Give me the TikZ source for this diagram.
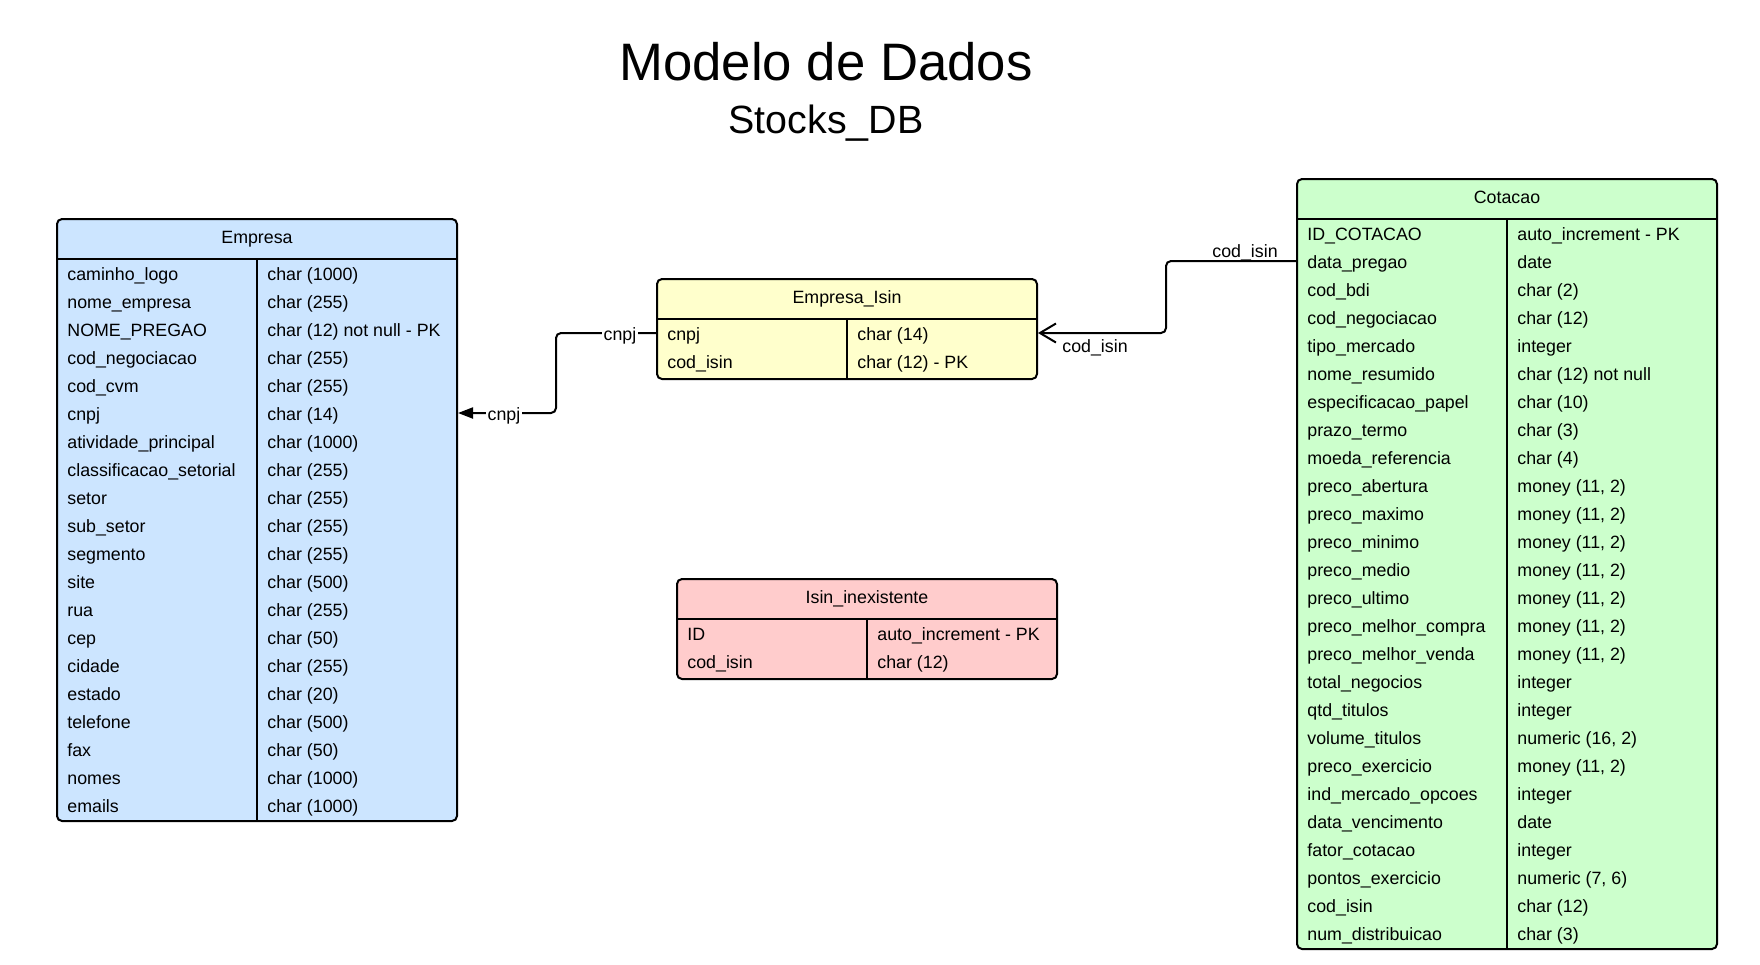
\documentclass[tikz,border=0pt]{standalone}
\usepackage{fontspec}
\setmainfont{Liberation Sans}
\usetikzlibrary{arrows.meta}
\definecolor{empblue}{HTML}{CCE5FF}
\definecolor{cotgreen}{HTML}{CCFFCC}
\definecolor{isinyellow}{HTML}{FFFFCC}
\definecolor{inexred}{HTML}{FFCCCC}
\begin{document}
\begin{tikzpicture}[
    x=0.5pt, y=-0.5pt,
    tbl/.style={draw, line width=1pt, rounded corners=2.5pt, inner sep=0pt},
    rule/.style={line width=1pt},
    txt/.style={inner sep=0pt, font=\fontsize{8.9}{10}\selectfont, text height=0.72em, text depth=0pt},
    cell/.style={txt, anchor=west},
    link/.style={line width=1pt, rounded corners=2.5pt},
    lbl/.style={txt, fill=white, inner xsep=1pt, inner ysep=2pt}
]
\path[use as bounding box, fill=white] (0,0) rectangle (1760,964);

\node[font=\fontsize{26.35}{30}\selectfont] (title) at (826,62) {Modelo de Dados};
\node[font=\fontsize{19.7}{22}\selectfont, text height=0.72em, text depth=0pt] (subtitle) at (826,126) {Stocks\_DB};

\node[tbl, fill=empblue, minimum width=200pt, minimum height=301pt] (emp) at (257,520) {};
\draw[rule] (57,259) -- (457,259);
\draw[rule] (257,259) -- (257,821);
\node[txt] (emp-h) at (257,236) {Empresa};
\foreach \c/\t [count=\i] in {caminho\_logo/char (1000), nome\_empresa/char (255),
    NOME\_PREGAO/char (12) not null - PK, cod\_negociacao/char (255), cod\_cvm/char (255),
    cnpj/char (14), atividade\_principal/char (1000), classificacao\_setorial/char (255),
    setor/char (255), sub\_setor/char (255), segmento/char (255), site/char (500),
    rua/char (255), cep/char (50), cidade/char (255), estado/char (20),
    telefone/char (500), fax/char (50), nomes/char (1000), emails/char (1000)} {
  \node[cell] (emp-c\i) at (67,245+28*\i) {\c};
  \node[cell] (emp-t\i) at (267,245+28*\i) {\t};
}

\node[tbl, fill=cotgreen, minimum width=210pt, minimum height=385pt] (cot) at (1507,564) {};
\draw[rule] (1297,219) -- (1717,219);
\draw[rule] (1507,219) -- (1507,949);
\node[txt] (cot-h) at (1507,196) {Cotacao};
\foreach \c/\t [count=\i] in {ID\_COTACAO/auto\_increment - PK, data\_pregao/date,
    cod\_bdi/char (2), cod\_negociacao/char (12), tipo\_mercado/integer,
    nome\_resumido/char (12) not null, especificacao\_papel/char (10),
    prazo\_termo/char (3), moeda\_referencia/char (4),
    preco\_abertura/{money (11, 2)}, preco\_maximo/{money (11, 2)},
    preco\_minimo/{money (11, 2)}, preco\_medio/{money (11, 2)},
    preco\_ultimo/{money (11, 2)}, preco\_melhor\_compra/{money (11, 2)},
    preco\_melhor\_venda/{money (11, 2)}, total\_negocios/integer,
    qtd\_titulos/integer, volume\_titulos/{numeric (16, 2)},
    preco\_exercicio/{money (11, 2)}, ind\_mercado\_opcoes/integer,
    data\_vencimento/date, fator\_cotacao/integer,
    pontos\_exercicio/{numeric (7, 6)}, cod\_isin/char (12),
    num\_distribuicao/char (3)} {
  \node[cell] (cot-c\i) at (1307,205+28*\i) {\c};
  \node[cell] (cot-t\i) at (1517,205+28*\i) {\t};
}

\node[tbl, fill=isinyellow, minimum width=190pt, minimum height=50pt] (ei) at (847,329) {};
\draw[rule] (657,319) -- (1037,319);
\draw[rule] (847,319) -- (847,379);
\node[txt] (ei-h) at (847,296) {Empresa\_Isin};
\foreach \c/\t [count=\i] in {cnpj/char (14), cod\_isin/char (12) - PK} {
  \node[cell] (ei-c\i) at (667,305+28*\i) {\c};
  \node[cell] (ei-t\i) at (857,305+28*\i) {\t};
}

\node[tbl, fill=inexred, minimum width=190pt, minimum height=50pt] (inex) at (867,629) {};
\draw[rule] (677,619) -- (1057,619);
\draw[rule] (867,619) -- (867,679);
\node[txt] (inex-h) at (867,596) {Isin\_inexistente};
\foreach \c/\t [count=\i] in {ID/auto\_increment - PK, cod\_isin/char (12)} {
  \node[cell] (inex-c\i) at (687,605+28*\i) {\c};
  \node[cell] (inex-t\i) at (877,605+28*\i) {\t};
}

\draw[link, -{Triangle[length=7.5pt, width=5.5pt]}] (ei.west |- ei-c1) -- ++(-100,0) |- (emp.east |- emp-c6);
\node[lbl] (cnpj-a) at (620,333) {cnpj};
\node[lbl] (cnpj-b) at (504,413) {cnpj};

\draw[link, -{Straight Barb[length=8pt, width=9.5pt]}] (cot.west |- cot-c2) -- ++(-130,0) |- (ei.east |- ei-c1);
\node[txt] (isin-a) at (1245,250) {cod\_isin};
\node[txt] (isin-b) at (1095,345) {cod\_isin};
\end{tikzpicture}
\end{document}
